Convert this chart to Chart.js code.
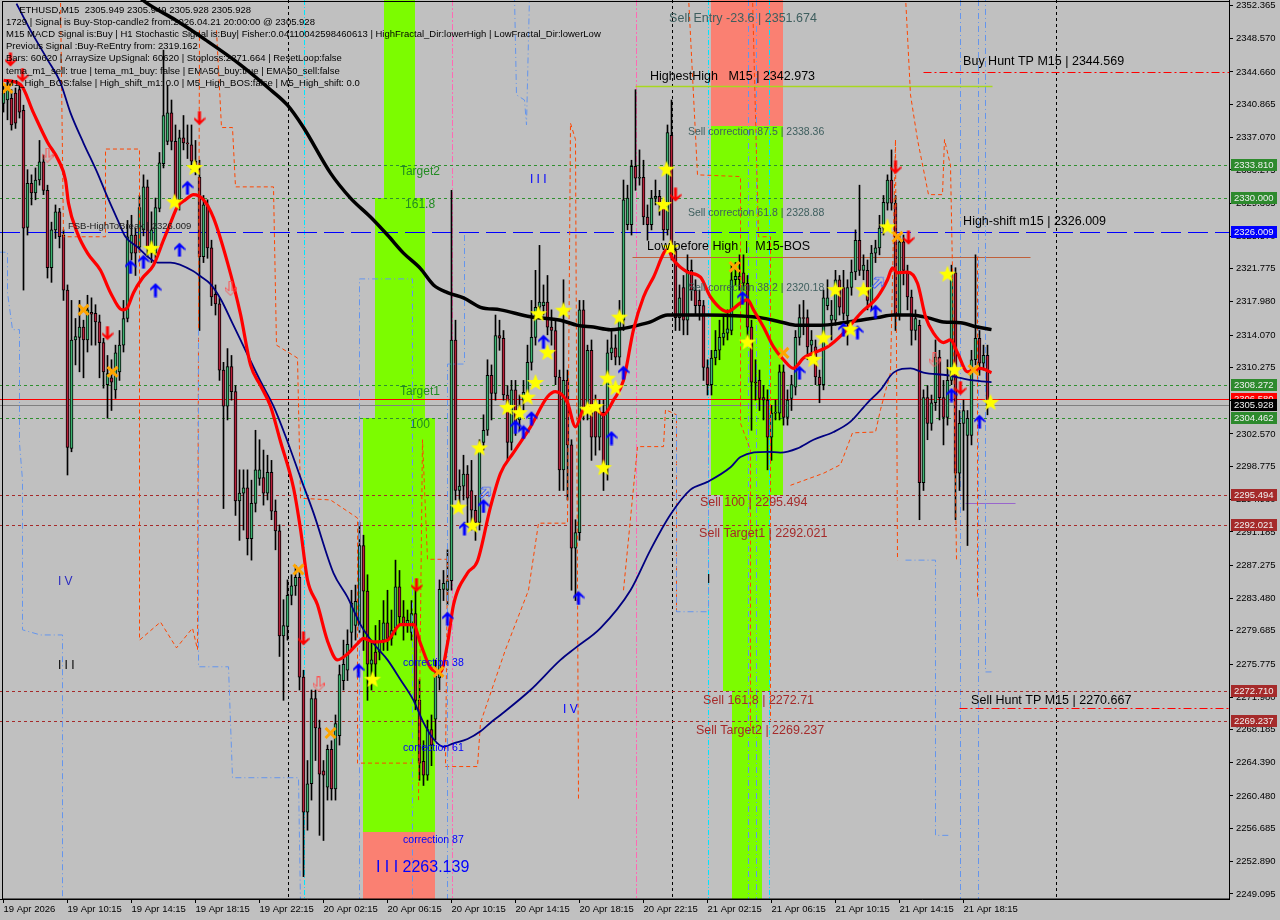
<!DOCTYPE html>
<html>
<head>
<meta charset="utf-8">
<script src="https://cdn.jsdelivr.net/npm/chart.js@4.4.1/dist/chart.umd.min.js"></script>
<style>
  html, body { margin: 0; padding: 0; background: #c0c0c0; overflow: hidden; }
  canvas { display: block; }
</style>
</head>
<body>
<canvas id="chart" width="1280" height="920"></canvas>
<script>
const FONT = '"Liberation Sans", Arial, sans-serif';

// x axis: one bar every 15 minutes, a label every 16 bars
const xLabels = ['19 Apr 2026', '19 Apr 10:15', '19 Apr 14:15', '19 Apr 18:15', '19 Apr 22:15',
  '20 Apr 02:15', '20 Apr 06:15', '20 Apr 10:15', '20 Apr 14:15', '20 Apr 18:15', '20 Apr 22:15',
  '21 Apr 02:15', '21 Apr 06:15', '21 Apr 10:15', '21 Apr 14:15', '21 Apr 18:15'];

const yTicks = [2352.365, 2348.570, 2344.660, 2340.865, 2337.070, 2333.275, 2329.365, 2325.570,
  2321.775, 2317.980, 2314.070, 2310.275, 2306.480, 2302.570, 2298.775, 2294.980, 2291.185,
  2287.275, 2283.480, 2279.685, 2275.775, 2271.980, 2268.185, 2264.390, 2260.480, 2256.685,
  2252.890, 2249.095];

// ETHUSD M15 candles
const O = [2341.0,2341.4,2341.6,2342.2,2342.6,2340.2,2326.6,2331.7,2330.6,2332.1,
2334.2,2330.9,2321.9,2326.3,2328.4,2325.7,2319.3,2300.9,2313.5,2313.8,
2315.0,2313.5,2316.7,2316.6,2315.6,2313.2,2308.3,2309.1,2307.7,2309.8,
2312.9,2316.0,2323.6,2325.7,2324.3,2326.3,2331.3,2323.6,2323.6,2328.8,
2334.0,2336.6,2339.9,2336.6,2329.8,2337.0,2336.4,2336.2,2334.3,2332.4,
2323.2,2329.2,2324.2,2318.8,2317.7,2310.0,2305.8,2310.4,2307.5,2294.8,
2295.7,2296.3,2290.4,2294.5,2297.4,2297.5,2295.7,2298.1,2293.6,2291.3,
2279.1,2280.2,2283.8,2284.9,2285.9,2274.3,2258.6,2261.9,2271.8,2268.4,
2263.4,2261.5,2265.9,2261.3,2267.5,2273.9,2275.1,2279.5,2280.3,2280.3,
2289.6,2284.3,2275.8,2277.2,2277.2,2278.6,2280.6,2278.8,2280.0,2284.8,
2281.3,2280.3,2279.5,2281.7,2271.6,2264.5,2262.9,2268.2,2269.4,2274.2,
2284.5,2284.4,2285.5,2313.5,2296.0,2296.5,2297.9,2296.0,2293.7,2292.3,
2301.6,2303.0,2309.4,2307.3,2314.0,2313.7,2307.1,2301.6,2307.7,2304.2,
2306.5,2307.4,2310.9,2313.8,2317.3,2317.5,2317.9,2315.0,2314.6,2309.2,
2298.4,2308.8,2301.3,2289.3,2291.1,2317.0,2305.6,2312.3,2305.3,2302.2,
2305.1,2298.7,2312.0,2312.6,2311.5,2315.8,2326.9,2326.9,2333.7,2332.3,
2332.4,2327.8,2326.9,2330.0,2330.2,2329.2,2326.3,2337.3,2323.9,2316.1,
2319.6,2315.8,2321.6,2319.3,2318.1,2317.5,2310.3,2308.3,2311.4,2312.3,
2313.8,2314.3,2314.6,2320.5,2320.9,2321.3,2320.1,2315.0,2308.6,2308.8,
2306.8,2306.5,2302.2,2305.0,2305.0,2309.8,2304.5,2306.7,2308.0,2313.8,
2316.1,2316.1,2312.9,2312.7,2309.2,2308.3,2317.5,2315.8,2315.8,2320.5,
2319.6,2316.3,2319.6,2321.4,2325.1,2321.6,2321.6,2317.8,2323.6,2324.2,
2326.5,2329.4,2332.1,2329.4,2316.4,2324.9,2321.3,2318.5,2314.6,2315.2,
2296.9,2306.8,2303.8,2306.2,2311.5,2306.8,2304.5,2308.8,2321.3,2298.0,
2303.8,2302.4,2302.4,2311.2,2313.7,2310.8,2311.7,2305.949];

const H = [2343.1,2343.5,2342.6,2342.8,2343.3,2340.8,2333.3,2332.7,2333.5,2336.7,
2335.0,2331.5,2327.2,2329.2,2328.8,2326.3,2319.9,2318.1,2316.0,2318.1,
2315.8,2318.7,2318.4,2317.6,2316.4,2313.7,2311.7,2311.2,2312.9,2314.6,
2318.1,2327.4,2328.0,2326.5,2330.3,2332.7,2332.1,2328.4,2330.0,2335.3,
2347.2,2343.1,2341.4,2338.5,2337.9,2339.6,2338.5,2338.5,2336.7,2334.4,
2330.3,2329.8,2325.1,2319.9,2318.4,2310.9,2312.5,2311.7,2308.2,2298.4,
2298.4,2298.4,2297.2,2303.0,2301.9,2300.7,2300.1,2299.5,2294.9,2292.0,
2283.3,2285.6,2286.2,2287.3,2286.7,2275.1,2264.6,2272.8,2272.8,2269.3,
2264.6,2266.4,2266.9,2269.9,2275.7,2278.6,2279.8,2284.4,2285.0,2292.3,
2290.8,2286.2,2278.6,2280.3,2280.9,2283.2,2284.4,2282.1,2287.9,2286.7,
2283.2,2282.1,2283.2,2284.4,2274.0,2266.9,2269.3,2269.9,2276.3,2285.6,
2286.7,2289.1,2330.9,2315.8,2298.4,2300.1,2298.9,2299.5,2295.4,2301.9,
2304.8,2311.2,2310.6,2316.4,2315.8,2314.6,2308.2,2308.8,2308.8,2307.1,
2308.8,2312.9,2318.1,2321.6,2324.5,2319.9,2321.0,2317.0,2315.8,2310.0,
2320.5,2310.0,2301.9,2292.6,2318.1,2318.1,2312.9,2313.5,2307.1,2306.5,
2306.5,2313.5,2314.6,2314.1,2318.1,2332.1,2331.5,2334.4,2342.6,2335.6,
2334.4,2329.2,2330.9,2332.1,2330.9,2329.8,2338.5,2341.4,2324.5,2319.9,
2321.0,2323.4,2322.8,2320.5,2319.3,2318.1,2311.2,2312.3,2314.6,2315.8,
2316.4,2317.0,2322.2,2322.5,2323.4,2323.4,2321.0,2315.8,2311.2,2310.0,
2308.2,2307.7,2305.9,2306.5,2310.6,2310.6,2307.7,2309.4,2314.6,2317.6,
2318.1,2317.0,2314.6,2313.5,2310.0,2319.3,2320.5,2318.1,2321.6,2321.0,
2321.6,2320.5,2322.8,2326.3,2331.5,2323.4,2322.8,2324.5,2325.1,2328.0,
2330.3,2332.7,2335.6,2330.3,2325.7,2325.7,2322.2,2319.3,2317.0,2315.8,
2307.7,2308.2,2307.1,2313.5,2312.3,2308.8,2311.2,2322.2,2321.9,2305.3,
2306.5,2305.3,2312.3,2323.4,2314.6,2312.9,2312.9,2305.949];

const L = [2340.0,2339.1,2337.9,2338.1,2339.3,2319.3,2325.7,2329.2,2329.8,2331.5,
2330.4,2320.7,2320.2,2325.3,2324.2,2318.1,2297.8,2300.5,2310.6,2309.8,
2309.1,2312.1,2312.9,2312.9,2309.1,2307.9,2304.4,2305.3,2306.7,2308.8,
2312.1,2315.6,2322.8,2321.0,2323.7,2325.6,2323.2,2322.5,2323.0,2328.4,
2333.5,2336.2,2335.6,2329.2,2328.6,2335.6,2334.6,2333.3,2332.7,2314.6,
2322.5,2323.0,2317.5,2316.4,2308.8,2293.9,2304.2,2306.5,2293.1,2290.2,
2291.4,2288.5,2287.9,2293.5,2296.6,2294.3,2294.9,2292.6,2289.1,2276.7,
2271.6,2278.6,2282.7,2283.8,2272.8,2251.1,2256.5,2260.0,2264.6,2255.9,
2255.3,2260.0,2260.0,2260.0,2266.4,2272.8,2273.9,2277.4,2278.6,2279.5,
2277.4,2271.6,2272.8,2273.9,2276.3,2277.4,2277.4,2278.0,2279.2,2280.3,
2278.6,2279.5,2278.6,2270.5,2262.3,2261.7,2262.3,2264.0,2267.0,2272.8,
2283.2,2282.7,2284.4,2294.9,2293.7,2294.9,2292.0,2291.4,2290.2,2291.4,
2300.7,2302.4,2304.2,2306.5,2312.3,2306.5,2299.5,2300.7,2302.4,2303.0,
2305.3,2306.5,2310.0,2312.9,2316.4,2316.4,2314.1,2312.9,2308.3,2296.0,
2296.0,2294.9,2284.4,2283.2,2290.2,2304.2,2304.2,2299.5,2300.1,2300.7,
2296.0,2297.2,2311.2,2310.6,2310.6,2314.6,2326.3,2325.7,2330.9,2331.5,
2326.9,2325.1,2326.3,2329.2,2328.0,2325.1,2325.7,2322.8,2314.6,2314.6,
2314.1,2314.1,2318.1,2316.4,2315.8,2308.8,2307.1,2307.1,2310.6,2311.2,
2312.9,2313.5,2314.1,2319.9,2319.3,2319.3,2312.9,2303.0,2306.5,2305.3,
2304.2,2298.4,2299.5,2304.2,2304.2,2303.6,2303.6,2305.3,2307.1,2312.9,
2314.1,2311.2,2311.7,2308.3,2306.2,2307.7,2317.0,2313.5,2315.2,2316.4,
2315.8,2312.9,2318.7,2320.5,2321.0,2320.5,2317.0,2317.0,2322.5,2323.4,
2325.7,2328.6,2328.6,2314.6,2315.8,2319.9,2317.0,2312.9,2313.5,2292.6,
2296.0,2301.9,2303.0,2305.3,2304.2,2301.3,2303.6,2308.3,2292.6,2296.0,
2293.7,2289.6,2301.3,2310.6,2309.4,2310.0,2304.8,2305.928];

const C = [2342.2,2342.6,2338.5,2338.7,2340.0,2326.5,2331.7,2330.6,2332.1,2334.2,
2330.9,2321.9,2326.3,2328.4,2325.5,2319.3,2301.0,2313.5,2313.9,2315.0,
2313.5,2317.0,2316.5,2315.6,2313.2,2309.8,2309.6,2308.6,2312.0,2312.9,
2316.0,2325.5,2325.7,2323.6,2328.9,2331.3,2324.3,2326.3,2328.9,2334.1,
2339.6,2339.9,2336.6,2329.8,2337.0,2336.4,2336.3,2334.3,2333.8,2323.2,
2329.2,2324.2,2318.5,2317.7,2310.0,2305.8,2310.4,2307.5,2294.8,2295.7,
2296.3,2290.4,2294.5,2298.4,2298.4,2295.7,2298.1,2293.6,2291.3,2279.1,
2280.3,2283.8,2284.9,2285.9,2274.3,2258.6,2261.9,2271.8,2268.4,2263.0,
2262.9,2265.9,2261.3,2268.9,2274.6,2275.8,2278.1,2282.9,2283.1,2289.6,
2284.3,2275.8,2276.3,2275.8,2278.4,2280.6,2278.8,2279.7,2284.8,2281.3,
2280.3,2280.9,2281.7,2271.6,2264.3,2262.9,2268.2,2266.4,2274.4,2284.5,
2285.2,2285.5,2313.5,2296.0,2296.5,2297.9,2295.1,2293.7,2292.3,2301.0,
2303.0,2309.4,2307.3,2314.0,2313.7,2307.1,2301.6,2307.7,2303.9,2305.3,
2307.4,2310.9,2313.8,2317.3,2317.9,2317.9,2315.0,2314.6,2309.2,2298.4,
2308.8,2301.3,2289.3,2291.1,2317.0,2305.6,2312.3,2302.2,2302.2,2305.1,
2298.7,2312.0,2312.6,2311.5,2315.8,2329.8,2330.0,2333.7,2332.3,2332.4,
2327.8,2326.9,2330.0,2330.2,2329.2,2326.3,2337.6,2323.9,2316.1,2318.4,
2315.8,2321.6,2319.3,2317.5,2317.5,2310.3,2308.3,2311.4,2312.3,2313.8,
2314.3,2314.8,2320.5,2320.9,2320.5,2320.1,2315.0,2308.6,2308.5,2306.7,
2306.5,2302.2,2305.0,2305.1,2309.8,2304.5,2306.5,2308.3,2313.8,2316.1,
2316.0,2312.7,2313.5,2309.2,2308.3,2318.4,2318.4,2316.4,2320.5,2317.3,
2316.6,2319.6,2321.4,2325.1,2321.6,2322.2,2318.1,2323.6,2324.2,2326.5,
2329.5,2332.1,2329.4,2316.4,2324.9,2321.6,2318.5,2314.6,2316.0,2296.9,
2306.8,2303.8,2306.2,2311.5,2306.8,2304.5,2308.8,2321.3,2298.0,2303.8,
2305.3,2304.4,2311.2,2313.7,2310.8,2311.7,2305.9,2305.928];

// moving averages, [bar, price]
const emaFast = [[0,2343.7],[4.25,2343.2],[7.5,2339.9],[11,2336.5],[13.75,2334.4],[15.5,2332.1],
[16.25,2329.4],[18.5,2325.9],[21,2323.6],[24.25,2321.6],[26.75,2319.0],[29.75,2317.0],[31,2317.3],
[32.5,2319.0],[34.75,2320.7],[37.5,2322.2],[40,2325.1],[41.75,2327.1],[43.5,2329.0],[45.5,2329.8],
[47.5,2330.4],[50,2329.8],[52.5,2327.7],[56,2322.5],[59.25,2316.5],[61.75,2310.6],[64.25,2308.2],
[66.75,2305.8],[69.25,2301.7],[72.5,2296.3],[74.25,2291.5],[76,2285.6],[78.5,2282.7],[81,2278.5],
[83.5,2276.3],[86,2277.0],[88.5,2278.2],[90,2278.8],[92.5,2278.4],[96,2278.6],[99.25,2280.4],
[102.5,2280.4],[104.25,2278.2],[106.75,2275.4],[109.25,2274.9],[111,2278.2],[112.5,2282.7],
[116,2286.4],[118.5,2287.8],[121.75,2294.1],[124.25,2298.0],[127.5,2300.4],[131.75,2303.4],
[136,2306.9],[138,2307.5],[141,2306.2],[143,2303.4],[145,2305.4],[147.5,2305.7],[150,2304.8],
[152.5,2306.5],[155,2308.8],[157.5,2314.7],[160,2318.5],[162.5,2320.8],[166,2324.0],[167.5,2322.8],
[171,2321.4],[174.25,2320.8],[176.75,2318.5],[181,2316.8],[184.25,2317.8],[186,2318.2],[187.5,2317.0],
[190,2315.0],[192.5,2312.7],[195,2311.2],[197.5,2310.2],[200,2311.4],[202.5,2312.0],[206,2312.7],
[210,2314.3],[214.25,2316.6],[218.5,2318.5],[221,2320.5],[222.25,2321.9],[223.5,2321.3],[226,2321.4],
[228.5,2320.1],[230.5,2316.2],[232.5,2314.3],[235,2313.2],[236.75,2313.5],[238.5,2312.0],[241,2309.8],
[242.5,2310.0],[244.25,2310.2],[247,2309.7]];

const emaSlow = [[3.25,2352.6],[6.75,2349.5],[11,2346.1],[14.25,2343.4],[16.75,2339.9],[20,2336.4],
[23.5,2332.9],[26,2330.1],[28.5,2327.5],[30.5,2325.5],[33.5,2324.3],[36,2323.2],[38.5,2322.5],
[41.75,2322.5],[47.5,2321.5],[49.25,2320.9],[51.75,2320.0],[54.25,2318.3],[57.5,2315.2],[61,2311.8],
[64.25,2308.7],[67.5,2305.8],[71,2301.7],[74.25,2297.5],[77.5,2293.4],[82.5,2286.4],[86,2283.6],
[89.25,2280.4],[92.5,2278.2],[96,2276.3],[99.25,2274.0],[102.5,2271.6],[105,2269.0],[107.5,2267.1],
[110,2266.2],[112.5,2266.6],[116,2267.1],[119.25,2268.0],[121.75,2269.0],[124.25,2269.9],
[131.75,2272.8],[139.25,2276.3],[143,2277.7],[149.25,2280.0],[156.75,2284.4],[161.75,2289.1],
[166.75,2293.2],[171.75,2296.1],[176,2297.0],[181.75,2298.7],[184.25,2299.9],[191,2300.5],
[194.25,2300.4],[198.5,2300.9],[202.5,2301.9],[207.5,2302.8],[211.75,2304.0],[216,2306.2],
[219.25,2307.7],[222.5,2309.7],[226.75,2310.2],[230,2309.7],[236,2309.4],[242.5,2308.8],[247,2308.6]];

const ma200 = [[31.75,2354.2],[35.75,2352.7],[43,2350.7],[50.5,2348.4],[59.25,2345.5],[66.75,2342.6],
[71,2340.8],[75,2338.2],[81.75,2332.9],[86.75,2330.0],[91.75,2327.8],[96,2325.7],[100,2323.6],
[104.25,2321.8],[107.5,2319.9],[111,2319.0],[115,2318.4],[119.25,2317.3],[124.25,2317.0],
[131.75,2316.2],[139.25,2315.8],[143.5,2315.2],[147.5,2315.0],[151.75,2314.7],[154.25,2314.8],
[158.5,2315.2],[161.75,2315.6],[166,2316.4],[176,2316.4],[184.25,2316.3],[189.25,2316.1],
[194.25,2315.6],[198.5,2315.2],[204.25,2315.2],[210,2315.5],[214.25,2315.8],[218.5,2316.1],
[222.5,2316.4],[226.75,2316.4],[231,2316.1],[235,2315.6],[239.25,2315.5],[243.5,2315.0],[247,2314.7]];

// signal markers, [bar, price]
const stars = [[37,2324.1],[42.75,2329.5],[47.75,2333.5],[92.25,2274.0],[113.75,2294.0],[117.25,2291.9],
[119,2300.9],[126,2305.6],[129,2305.0],[131,2306.8],[133,2308.5],[133.75,2316.5],[136,2312.0],
[140,2316.9],[146,2305.4],[148,2305.7],[150,2298.6],[151,2309.0],[153,2307.9],[154,2316.1],
[165.75,2333.3],[165,2329.2],[166.75,2324.2],[186,2313.2],[202.5,2311.2],[205,2313.7],[208,2319.3],
[211.75,2314.7],[215,2319.3],[221,2326.6],[236,2321.1],[237.75,2310.0],[246.75,2306.2]];
const upArrows = [[31.75,2322.0],[35,2322.6],[38,2319.3],[44,2324.0],[46,2331.2],[88.75,2275.1],
[111,2281.1],[115.25,2291.6],[120,2294.2],[128,2303.4],[130,2302.8],[132,2304.4],[135,2313.3],
[143.75,2283.5],[152,2302.1],[155,2309.7],[184.75,2318.4],[199,2309.7],[210,2314.7],[213.5,2314.4],
[218,2316.8],[237,2307.1],[244,2304.0]];
const downArrows = [[1.75,2346.1],[4.75,2344.3],[26,2314.3],[49,2339.3],[75,2278.8],[103.25,2285.0],
[168,2330.4],[223,2333.6],[226.25,2325.4],[239.25,2307.9]];
const crosses = [[1,2342.8],[20,2317.0],[27.25,2309.8],[73.75,2286.8],[81.75,2267.8],[108.75,2274.9],
[182.75,2322.0],[195,2312.0],[223.5,2325.5],[242.5,2310.0]];
const hollowDown = [[11,2335.0],[56.75,2319.5],[78.75,2273.5],[232.75,2311.2]];
const hollowUp = [[120.5,2295.8],[218.75,2320.2]];

// fractal trail lines (orange) and swing boxes (light blue), [bar, price]
const orangePaths = [
  [[14.25,2353.5],[15,2325.5],[25.5,2325.5],[25.5,2335.7],[34,2335.7],[34,2278.6],[39.25,2280.7],
   [43.25,2277.7],[47.25,2280.0],[48.5,2277.5],[49,2349.5]],
  [[53.25,2349.5],[54.5,2338.2],[57.25,2338.2],[58,2331.3],[67.5,2331.3],[68.25,2312.9],[73.5,2311.4],
   [74.25,2295.1],[81.75,2294.9],[88.5,2292.8],[88.5,2264.3],[102.25,2264.3]],
  [[103.75,2260.0],[104.75,2301.9],[106,2288.0],[111,2288.0],[110.5,2263.9],[118.5,2263.9],
   [119.25,2269.0],[125.5,2277.5],[131.25,2284.4],[133.75,2292.2],[141,2292.2],[141.75,2338.7],
   [143,2336.8],[143.75,2260.0]],
  [[155,2284.4],[158.5,2301.1],[165,2301.1],[165.5,2305.4],[168.25,2304.8],[168.25,2281.9]],
  [[171.25,2353.5],[173.5,2332.7],[184.25,2332.5],[184.25,2303.8],[186.75,2300.7],[186.75,2268.1]],
  [[187.25,2353.5],[188.75,2325.5],[191.75,2325.5],[191.75,2269.3]],
  [[196.75,2296.6],[205,2298.0],[209.25,2299.0],[212.25,2302.7],[218,2302.8],[219.25,2305.4],
   [221.75,2309.7],[223,2336.8],[223.5,2287.9]],
  [[225.5,2353.5],[226.75,2342.0],[228.5,2336.8],[231.25,2330.4],[234.75,2330.4],[235.25,2336.8],
   [236.75,2333.8],[237.25,2321.6],[238.25,2287.9]],
  [[243.5,2323.2],[243.5,2283.3]]
];
const bluePaths = [
  [[-1,2323.7],[1,2323.7],[1,2319.0],[2.25,2314.7],[4,2314.7],[4,2301.5],[4.75,2297.2],[4.75,2279.8],
   [9.25,2279.2],[14.75,2279.2],[14.75,2248]],
  [[48.75,2314.7],[48.75,2275.5],[56.25,2275.5],[57.25,2262.6],[73.75,2262.6],[74.25,2248]],
  [[89,2248],[89,2320.6],[102.25,2320.6],[102.25,2248]],
  [[115.25,2325.7],[115.25,2310.7],[111,2310.7],[111,2248]],
  [[127.75,2353.5],[128.25,2342.0],[130.25,2341.4],[130.75,2338.5],[131.5,2353.5]],
  [[168.25,2304.8],[168.25,2281.9],[176.25,2281.9],[176.25,2304.8]],
  [[225.5,2287.9],[233,2287.9],[233,2255.9],[236.75,2255.9]],
  [[245.5,2353.5],[245.5,2274.9],[247.25,2274.9]]
];

const hLines = [
  { p: 2344.660, c: '#ff0000', d: [8, 3, 2, 3], from: 230 },
  { p: 2342.973, c: '#a8d820', d: [], from: 158, to: 247.25, w: 1.5 },
  { p: 2333.810, c: '#2f8f2f', d: [3, 3] },
  { p: 2330.000, c: '#2f8f2f', d: [3, 3] },
  { p: 2326.009, c: '#0000ff', d: [20, 7] },
  { p: 2323.100, c: '#c0603a', d: [], from: 157.25, to: 256.75 },
  { p: 2308.272, c: '#2f8f2f', d: [3, 3] },
  { p: 2306.580, c: '#ff0000', d: [] },
  { p: 2305.928, c: '#808080', d: [] },
  { p: 2304.462, c: '#2f8f2f', d: [3, 3] },
  { p: 2295.494, c: '#a52a2a', d: [3, 3] },
  { p: 2294.500, c: '#9966cc', d: [], from: 240.5, to: 253 },
  { p: 2292.021, c: '#a52a2a', d: [3, 3] },
  { p: 2272.710, c: '#a52a2a', d: [3, 3] },
  { p: 2270.667, c: '#ff0000', d: [8, 3, 2, 3], from: 239 },
  { p: 2269.237, c: '#a52a2a', d: [3, 3] }
];

const vLines = [
  { b: 71, c: '#000000', d: [3, 3] }, { b: 167, c: '#000000', d: [3, 3] }, { b: 263, c: '#000000', d: [3, 3] },
  { b: 75, c: '#00e5ff', d: [5, 2, 1, 2] }, { b: 176.25, c: '#00e5ff', d: [5, 2, 1, 2] }, { b: 191.25, c: '#00e5ff', d: [5, 2, 1, 2] },
  { b: 112, c: '#ff69b4', d: [6, 2, 2, 2] }, { b: 158, c: '#ff69b4', d: [6, 2, 2, 2] },
  { b: 186, c: '#6495ed', d: [6, 3, 1, 3] }, { b: 188, c: '#6495ed', d: [6, 3, 1, 3] },
  { b: 239, c: '#6495ed', d: [6, 3, 1, 3] }, { b: 243.5, c: '#6495ed', d: [6, 3, 1, 3] }
];

const zones = [
  { b0: 95.125, b1: 102.875, top: 2354, bot: 2330.0, c: '#7cfc00' },
  { b0: 92.875, b1: 105.375, top: 2330.0, bot: 2304.462, c: '#7cfc00' },
  { b0: 89.875, b1: 107.875, top: 2304.462, bot: 2256.3, c: '#7cfc00' },
  { b0: 89.875, b1: 107.875, top: 2256.3, bot: 2240, c: '#fa8072' },
  { b0: 176.875, b1: 194.875, top: 2354, bot: 2338.36, c: '#fa8072' },
  { b0: 176.875, b1: 194.875, top: 2338.36, bot: 2295.494, c: '#7cfc00' },
  { b0: 179.875, b1: 191.625, top: 2295.494, bot: 2272.71, c: '#7cfc00' },
  { b0: 182.125, b1: 189.625, top: 2272.71, bot: 2240, c: '#7cfc00' }
];

const tags = [
  { p: 2333.810, t: '2333.810', bg: '#2d8a2d' }, { p: 2330.000, t: '2330.000', bg: '#2d8a2d' },
  { p: 2326.009, t: '2326.009', bg: '#0000ff' }, { p: 2308.272, t: '2308.272', bg: '#2d8a2d' },
  { p: 2306.580, t: '2306.580', bg: '#ff0000' }, { p: 2305.928, t: '2305.928', bg: '#000000' },
  { p: 2304.462, t: '2304.462', bg: '#2d8a2d' }, { p: 2295.494, t: '2295.494', bg: '#a52a2a' },
  { p: 2292.021, t: '2292.021', bg: '#a52a2a' }, { p: 2272.710, t: '2272.710', bg: '#a52a2a' },
  { p: 2269.237, t: '2269.237', bg: '#a52a2a' }
];

const notes = [
  { b: 166.4, p: 2350.82, t: 'Sell Entry -23.6 | 2351.674', c: '#3e5e5e', s: 12.5 },
  { b: 161.6, p: 2344.08, t: 'HighestHigh   M15 | 2342.973', c: '#000000', s: 12.5 },
  { b: 171.1, p: 2337.68, t: 'Sell correction 87.5 | 2338.36', c: '#3e5e5e', s: 10.5 },
  { b: 171.1, p: 2328.26, t: 'Sell correction 61.8 | 2328.88', c: '#3e5e5e', s: 10.5 },
  { b: 160.9, p: 2324.31, t: 'Low before High  |  M15-BOS', c: '#000000', s: 12.5 },
  { b: 171.1, p: 2319.54, t: 'Sell correction 38.2 | 2320.18', c: '#3e5e5e', s: 10.5 },
  { b: 174.1, p: 2294.54, t: 'Sell 100 | 2295.494', c: '#a52a2a', s: 12.5 },
  { b: 173.9, p: 2291.05, t: 'Sell Target1 | 2292.021', c: '#a52a2a', s: 12.5 },
  { b: 174.9, p: 2271.63, t: 'Sell 161.8 | 2272.71', c: '#a52a2a', s: 12.5 },
  { b: 173.1, p: 2268.14, t: 'Sell Target2 | 2269.237', c: '#a52a2a', s: 12.5 },
  { b: 239.9, p: 2345.82, t: 'Buy Hunt TP M15 | 2344.569', c: '#000000', s: 12.5 },
  { b: 239.9, p: 2327.22, t: 'High-shift m15 | 2326.009', c: '#000000', s: 12.5 },
  { b: 241.9, p: 2271.63, t: 'Sell Hunt TP M15 | 2270.667', c: '#000000', s: 12.5 },
  { b: 16.1, p: 2326.75, t: 'FSB-HighToBreak | 2326.009', c: '#202020', s: 9.5 },
  { b: 99.1, p: 2333.03, t: 'Target2', c: '#228b22', s: 12 },
  { b: 100.4, p: 2329.19, t: '161.8', c: '#228b22', s: 12 },
  { b: 99.1, p: 2307.45, t: 'Target1', c: '#228b22', s: 12 },
  { b: 101.6, p: 2303.61, t: '100', c: '#228b22', s: 12 },
  { b: 99.9, p: 2275.94, t: 'correction 38', c: '#0000ff', s: 10.5 },
  { b: 99.9, p: 2266.05, t: 'correction 61', c: '#0000ff', s: 10.5 },
  { b: 99.9, p: 2255.35, t: 'correction 87', c: '#0000ff', s: 10.5 },
  { b: 93.1, p: 2252.10, t: 'I I I 2263.139', c: '#0000ff', s: 16 },
  { b: 131.6, p: 2332.10, t: 'I I I', c: '#0000ff', s: 12 },
  { b: 13.6, p: 2285.35, t: 'I V', c: '#2a2ac0', s: 12 },
  { b: 13.6, p: 2275.59, t: 'I I I', c: '#000000', s: 12 },
  { b: 139.9, p: 2270.47, t: 'I V', c: '#0000ff', s: 12 },
  { b: 175.9, p: 2285.59, t: 'I', c: '#000000', s: 12 }
];

const header = [
  '     ETHUSD,M15  2305.949 2305.949 2305.928 2305.928',
  '1729 | Signal is Buy-Stop-candle2 from:2026.04.21 20:00:00 @ 2305.928',
  'M15 MACD Signal is:Buy | H1 Stochastic Signal is:Buy| Fisher:0.04110042598460613 | HighFractal_Dir:lowerHigh | LowFractal_Dir:lowerLow',
  'Previous Signal :Buy-ReEntry from: 2319.162',
  'Bars: 60620 | ArraySize UpSignal: 60620 | Stoploss:2271.664 | ResetLoop:false',
  'tema_m1_sell: true | tema_m1_buy: false | EMA50_buy:true | EMA50_sell:false',
  'M1_High_BOS:false | High_shift_m1: 0.0 | M5_High_BOS:false | M5_High_shift: 0.0'
];

// marker glyphs
function starGlyph(r, color) {
  const c = document.createElement('canvas');
  c.width = c.height = 2 * r + 2;
  const g = c.getContext('2d');
  g.beginPath();
  for (let k = 0; k < 10; k++) {
    const rr = k % 2 ? r * 0.42 : r;
    const a = -Math.PI / 2 + k * Math.PI / 5;
    g.lineTo(r + 1 + rr * Math.cos(a), r + 1 + rr * Math.sin(a));
  }
  g.closePath();
  g.fillStyle = color;
  g.fill();
  return c;
}

function arrowGlyph(color, down, hollow) {
  const c = document.createElement('canvas');
  c.width = 12; c.height = 15;
  const g = c.getContext('2d');
  const pts = [[6, 0.5], [11.5, 6], [11.5, 8.5], [7.5, 5], [7.5, 14.5], [4.5, 14.5], [4.5, 5], [0.5, 8.5], [0.5, 6]];
  g.beginPath();
  pts.forEach(([x, y], k) => {
    const yy = down ? 15 - y : y;
    if (k) g.lineTo(x, yy); else g.moveTo(x, yy);
  });
  g.closePath();
  if (hollow) { g.strokeStyle = color; g.lineWidth = 1; g.stroke(); }
  else { g.fillStyle = color; g.fill(); }
  return c;
}

const starImg = starGlyph(9, '#ffff00');
const upImg = arrowGlyph('#0000ff', false, false);
const downImg = arrowGlyph('#ff0000', true, false);
const hollowDownImg = arrowGlyph('#ff5050', true, true);
const hollowUpImg = arrowGlyph('#4060ff', false, true);

const wickData = O.map((o, i) => ({ x: i, y: [L[i], H[i]] }));
const bodyData = O.map((o, i) => ({ x: i, y: [o, C[i]] }));
const bodyColors = O.map((o, i) => (C[i] >= o ? '#3cb371' : '#b8203a'));

function markerSet(data, img, order, rot) {
  return { type: 'line', data, showLine: false, pointStyle: img, pointRadius: 5,
    pointRotation: rot || 0, order };
}

const datasets = [
  { type: 'bar', data: wickData, backgroundColor: '#000000', barThickness: 1, grouped: false, order: 20 },
  { type: 'bar', data: bodyData, backgroundColor: bodyColors, borderColor: '#000000', borderWidth: 1,
    borderSkipped: false, barThickness: 3, minBarLength: 1, grouped: false, order: 19 },
  ...orangePaths.map(p => ({ type: 'line', data: p, borderColor: '#ff4500', borderWidth: 1,
    borderDash: [4, 3], pointRadius: 0, tension: 0, order: 18 })),
  ...bluePaths.map(p => ({ type: 'line', data: p, borderColor: '#6495ed', borderWidth: 1,
    borderDash: [6, 3, 1, 3], pointRadius: 0, tension: 0, order: 17 })),
  { type: 'line', data: ma200, borderColor: '#000000', borderWidth: 3.5, pointRadius: 0,
    cubicInterpolationMode: 'monotone', order: 12 },
  { type: 'line', data: emaSlow, borderColor: '#000080', borderWidth: 1.8, pointRadius: 0,
    cubicInterpolationMode: 'monotone', order: 11 },
  { type: 'line', data: emaFast, borderColor: '#ff0000', borderWidth: 3.2, pointRadius: 0,
    cubicInterpolationMode: 'monotone', order: 10 },
  markerSet(hollowDown, hollowDownImg, 6),
  markerSet(hollowUp, hollowUpImg, 6, 45),
  { type: 'line', data: crosses, showLine: false, pointStyle: 'crossRot', pointRadius: 7,
    pointBorderWidth: 3, pointBorderColor: '#ffa500', order: 5 },
  markerSet(upArrows, upImg, 4),
  markerSet(downArrows, downImg, 3),
  markerSet(stars, starImg, 2)
];

// keep the plot area flush with the window edges, as in the terminal
function noPad(s) { s.paddingTop = 0; s.paddingBottom = 0; s.paddingLeft = 0; s.paddingRight = 0; }

const overlay = {
  id: 'overlay',
  beforeDraw(chart) {
    const ctx = chart.ctx;
    ctx.save();
    ctx.fillStyle = '#c0c0c0';
    ctx.fillRect(0, 0, chart.width, chart.height);
    ctx.restore();
  },
  beforeDatasetsDraw(chart) {
    const { ctx, chartArea: a, scales: { x, y } } = chart;
    ctx.save();
    ctx.beginPath();
    ctx.rect(a.left, a.top, a.right - a.left, a.bottom - a.top);
    ctx.clip();
    zones.forEach(z => {
      const x0 = Math.round(x.getPixelForValue(z.b0)), x1 = Math.round(x.getPixelForValue(z.b1));
      const y0 = Math.round(y.getPixelForValue(z.top)), y1 = Math.round(y.getPixelForValue(z.bot));
      ctx.fillStyle = z.c;
      ctx.fillRect(x0, y0, x1 - x0, y1 - y0);
    });
    vLines.forEach(v => {
      const px = Math.round(x.getPixelForValue(v.b)) + 0.5;
      ctx.strokeStyle = v.c; ctx.lineWidth = 1; ctx.setLineDash(v.d);
      ctx.beginPath(); ctx.moveTo(px, a.top); ctx.lineTo(px, a.bottom); ctx.stroke();
    });
    hLines.forEach(h => {
      const py = Math.round(y.getPixelForValue(h.p)) + 0.5;
      const x0 = h.from !== undefined ? x.getPixelForValue(h.from) : a.left;
      const x1 = h.to !== undefined ? x.getPixelForValue(h.to) : a.right;
      ctx.strokeStyle = h.c; ctx.lineWidth = h.w || 1; ctx.setLineDash(h.d);
      ctx.beginPath(); ctx.moveTo(x0, py); ctx.lineTo(x1, py); ctx.stroke();
    });
    ctx.restore();
  },
  afterDatasetsDraw(chart) {
    const { ctx, scales: { x, y } } = chart;
    ctx.save();
    ctx.textBaseline = 'middle';
    ctx.textAlign = 'left';
    notes.forEach(n => {
      ctx.font = n.s + 'px ' + FONT;
      ctx.fillStyle = n.c;
      ctx.fillText(n.t, x.getPixelForValue(n.b), y.getPixelForValue(n.p));
    });
    ctx.restore();
  },
  afterDraw(chart) {
    const { ctx, chartArea: a, scales: { y } } = chart;
    ctx.save();
    ctx.strokeStyle = '#000000'; ctx.lineWidth = 1; ctx.setLineDash([]);
    ctx.strokeRect(2.5, 1.5, a.right - 2.5 + 0.5, a.bottom - 1.5);
    ctx.font = '9.5px ' + FONT;
    ctx.fillStyle = '#000000';
    ctx.textBaseline = 'middle';
    header.forEach((line, i) => ctx.fillText(line, 6, 10 + i * 12.2));
    tags.forEach(t => {
      const py = Math.round(y.getPixelForValue(t.p));
      ctx.fillStyle = t.bg;
      ctx.fillRect(a.right + 2, py - 6, 46, 12);
      ctx.fillStyle = '#f0f0f0';
      ctx.fillText(t.t, a.right + 5, py + 0.5);
    });
    ctx.restore();
  }
};

new Chart(document.getElementById('chart'), {
  type: 'bar',
  data: { datasets },
  options: {
    responsive: false,
    animation: false,
    events: [],
    layout: { padding: 0, autoPadding: false },
    plugins: { legend: { display: false }, tooltip: { enabled: false } },
    scales: {
      x: {
        type: 'linear', min: -0.875, max: 306.375, offset: false,
        grid: { display: true, drawOnChartArea: false, drawTicks: true, tickLength: 4, color: '#000000', offset: false },
        border: { display: true, color: '#000000' },
        afterBuildTicks: s => { s.ticks = xLabels.map((t, i) => ({ value: i * 16 })); },
        afterFit: s => { s.height = 21; noPad(s); },
        ticks: { autoSkip: false, maxRotation: 0, align: 'start', padding: 1, color: '#000000',
          font: { family: FONT, size: 9.5 }, callback: (v, i) => xLabels[i] }
      },
      y: {
        type: 'linear', position: 'right', min: 2248.5, max: 2353.03,
        grid: { display: true, drawOnChartArea: false, drawTicks: true, tickLength: 4, color: '#000000' },
        border: { display: true, color: '#000000' },
        afterBuildTicks: s => { s.ticks = yTicks.map(v => ({ value: v })); },
        afterFit: s => { s.width = 51; noPad(s); },
        ticks: { autoSkip: false, padding: 3, color: '#000000',
          font: { family: FONT, size: 9.5 }, callback: v => v.toFixed(3) }
      }
    }
  },
  plugins: [overlay]
});
</script>
</body>
</html>
